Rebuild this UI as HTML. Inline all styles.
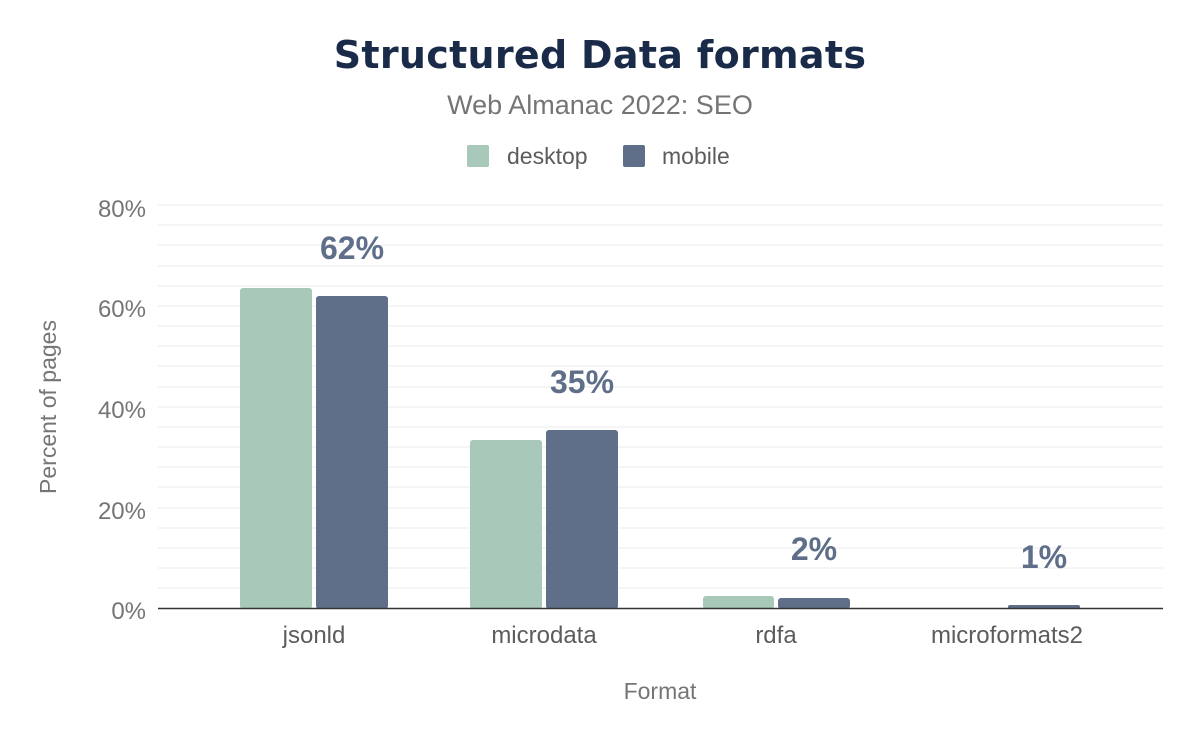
<!DOCTYPE html>
<html><head><meta charset="utf-8"><style>
html,body{margin:0;padding:0;background:#fff;width:1200px;height:742px;overflow:hidden}
svg text{font-family:"Liberation Sans",sans-serif}
</style></head><body>
<svg width="1200" height="742" viewBox="0 0 1200 742" xmlns="http://www.w3.org/2000/svg">
<text x="600" y="68" text-anchor="middle" font-size="38" font-weight="900" fill="#1a2b49" style="font-family:'DejaVu Sans','Liberation Sans',sans-serif;letter-spacing:0.3px">Structured Data formats</text>
<text x="600" y="114" text-anchor="middle" font-size="27" fill="#757575">Web Almanac 2022: SEO</text>
<rect x="467" y="145" width="22" height="22" rx="2" fill="#a8c8b9"/>
<text x="507" y="164" font-size="23" fill="#5c5c5c">desktop</text>
<rect x="623" y="145" width="22" height="22" rx="2" fill="#5f6f89"/>
<text x="662" y="164" font-size="23" fill="#5c5c5c">mobile</text>
<g stroke="#f2f2f2" stroke-width="1.5">
<line x1="158" x2="1163" y1="205" y2="205"/><line x1="158" x2="1163" y1="225" y2="225"/><line x1="158" x2="1163" y1="245" y2="245"/><line x1="158" x2="1163" y1="266" y2="266"/><line x1="158" x2="1163" y1="286" y2="286"/><line x1="158" x2="1163" y1="306" y2="306"/><line x1="158" x2="1163" y1="326" y2="326"/><line x1="158" x2="1163" y1="346" y2="346"/><line x1="158" x2="1163" y1="366" y2="366"/><line x1="158" x2="1163" y1="387" y2="387"/><line x1="158" x2="1163" y1="407" y2="407"/><line x1="158" x2="1163" y1="427" y2="427"/><line x1="158" x2="1163" y1="447" y2="447"/><line x1="158" x2="1163" y1="467" y2="467"/><line x1="158" x2="1163" y1="487" y2="487"/><line x1="158" x2="1163" y1="508" y2="508"/><line x1="158" x2="1163" y1="528" y2="528"/><line x1="158" x2="1163" y1="548" y2="548"/><line x1="158" x2="1163" y1="568" y2="568"/><line x1="158" x2="1163" y1="588" y2="588"/>
</g>
<g font-size="24" fill="#757575" text-anchor="end">
<text x="146" y="217">80%</text><text x="146" y="317">60%</text><text x="146" y="418">40%</text><text x="146" y="519">20%</text><text x="146" y="619">0%</text>
</g>
<text transform="translate(56,407) rotate(-90)" text-anchor="middle" font-size="23" fill="#757575">Percent of pages</text>
<g fill="#a8c8b9">
<rect x="240" y="288" width="72" height="321" rx="3"/>
<rect x="470" y="440" width="72" height="169" rx="3"/>
<rect x="703" y="596" width="71" height="13" rx="3"/>
</g>
<g fill="#5f6f89">
<rect x="316" y="296" width="72" height="313" rx="3"/>
<rect x="546" y="430" width="72" height="179" rx="3"/>
<rect x="778" y="598" width="72" height="11" rx="3"/>
<rect x="1008" y="605" width="72" height="4" rx="2"/>
</g>
<line x1="158" x2="1163" y1="608.5" y2="608.5" stroke="#333" stroke-width="1.5"/>
<g font-size="32" font-weight="bold" fill="#5f6f89" text-anchor="middle">
<text x="352" y="259">62%</text><text x="582" y="393">35%</text><text x="814" y="560">2%</text><text x="1044" y="568">1%</text>
</g>
<g font-size="24" fill="#5c5c5c" text-anchor="middle">
<text x="314" y="643">jsonld</text><text x="544" y="643">microdata</text><text x="776" y="643">rdfa</text><text x="1007" y="643">microformats2</text>
</g>
<text x="660" y="699" text-anchor="middle" font-size="23" fill="#757575">Format</text>
</svg>
</body></html>
